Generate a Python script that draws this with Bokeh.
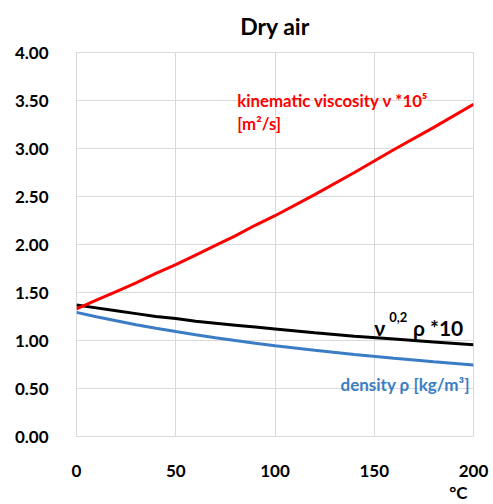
from bokeh.plotting import figure
from bokeh.models import Range1d, Label, FixedTicker, NumeralTickFormatter, Title
from bokeh.embed import file_html
from bokeh.resources import INLINE

# ---- data ----
temp_c = [0, 10, 20, 30, 40, 50, 60, 70, 80, 90, 100, 120, 140, 160, 180, 200]
kin_visc_x1e5 = [1.33, 1.42, 1.51, 1.60, 1.70, 1.79, 1.89, 1.99, 2.09, 2.20, 2.30,
                 2.52, 2.75, 2.99, 3.22, 3.46]
nu02_rho_x10 = [1.37, 1.34, 1.31, 1.28, 1.25, 1.23, 1.20, 1.18, 1.16, 1.14, 1.12,
                1.08, 1.045, 1.015, 0.985, 0.955]
density = [1.293, 1.247, 1.205, 1.165, 1.127, 1.093, 1.060, 1.029, 1.000, 0.972, 0.946,
           0.898, 0.854, 0.815, 0.779, 0.746]
x_ticks = [0, 50, 100, 150, 200]
y_ticks = [0, 0.5, 1.0, 1.5, 2.0, 2.5, 3.0, 3.5, 4.0]

FONT = "Lato"
RED = "#FF0000"
BLUE = "#3B7DC4"
GRID = "#D9D9D9"

p = figure(width=493, height=504, output_backend="svg", toolbar_location=None,
           x_range=Range1d(0, 200), y_range=Range1d(0, 4),
           min_border_left=76, min_border_right=20, min_border_top=52,
           min_border_bottom=68)
p.outline_line_color = GRID
p.background_fill_color = "white"
p.border_fill_color = "white"

p.title.text = "Dry air"
p.title.align = "center"
p.title.offset = 9
p.title.text_font = FONT
p.title.text_font_style = "bold"
p.title.text_font_size = "23px"
p.title.text_color = "#000000"
p.title.standoff = 22
p.title.vertical_align = "top"

unit = Title(text="°C", align="right", offset=6, text_font=FONT,
             text_font_style="bold", text_font_size="17px", standoff=0,
             text_color="#000000")
p.add_layout(unit, "below")

for ax in (p.xaxis, p.yaxis):
    ax.axis_line_color = None
    ax.major_tick_line_color = None
    ax.minor_tick_line_color = None
    ax.major_label_text_font = FONT
    ax.major_label_text_font_style = "bold"
    ax.major_label_text_font_size = "17px"
    ax.major_label_text_color = "#000000"

p.xaxis.ticker = FixedTicker(ticks=x_ticks)
p.yaxis.ticker = FixedTicker(ticks=y_ticks)
p.yaxis.formatter = NumeralTickFormatter(format="0.00")
p.xaxis.major_label_standoff = 22
p.yaxis.major_label_standoff = 22

p.xgrid.ticker = FixedTicker(ticks=x_ticks)
p.ygrid.ticker = FixedTicker(ticks=y_ticks)
p.xgrid.grid_line_color = GRID
p.ygrid.grid_line_color = GRID
p.xgrid.grid_line_width = 1
p.ygrid.grid_line_width = 1

p.line(temp_c, density, line_color=BLUE, line_width=3)
p.line(temp_c, nu02_rho_x10, line_color="#000000", line_width=3)
p.line(temp_c, kin_visc_x1e5, line_color=RED, line_width=3)

def lab(x, y, text, size, color="#000000", align="left", baseline="alphabetic"):
    p.add_layout(Label(x=x, y=y, text=text, text_font=FONT, text_font_style="bold",
                       text_font_size=size, text_color=color, text_align=align,
                       text_baseline=baseline))

# red series label
lab(81, 3.50, "kinematic viscosity ν *10⁵", "16.8px", color=RED)
lab(81, 3.26, "[m²/s]", "16.8px", color=RED)
# black series label
lab(150, 1.135, "ν", "21px")
lab(157.5, 1.245, "0,2", "13px")
lab(169.5, 1.135, "ρ *10", "21px")
# blue series label
lab(133, 0.545, "density ρ [kg/m³]", "17px", color=BLUE)

open("out.html", "w").write(file_html(p, INLINE))
